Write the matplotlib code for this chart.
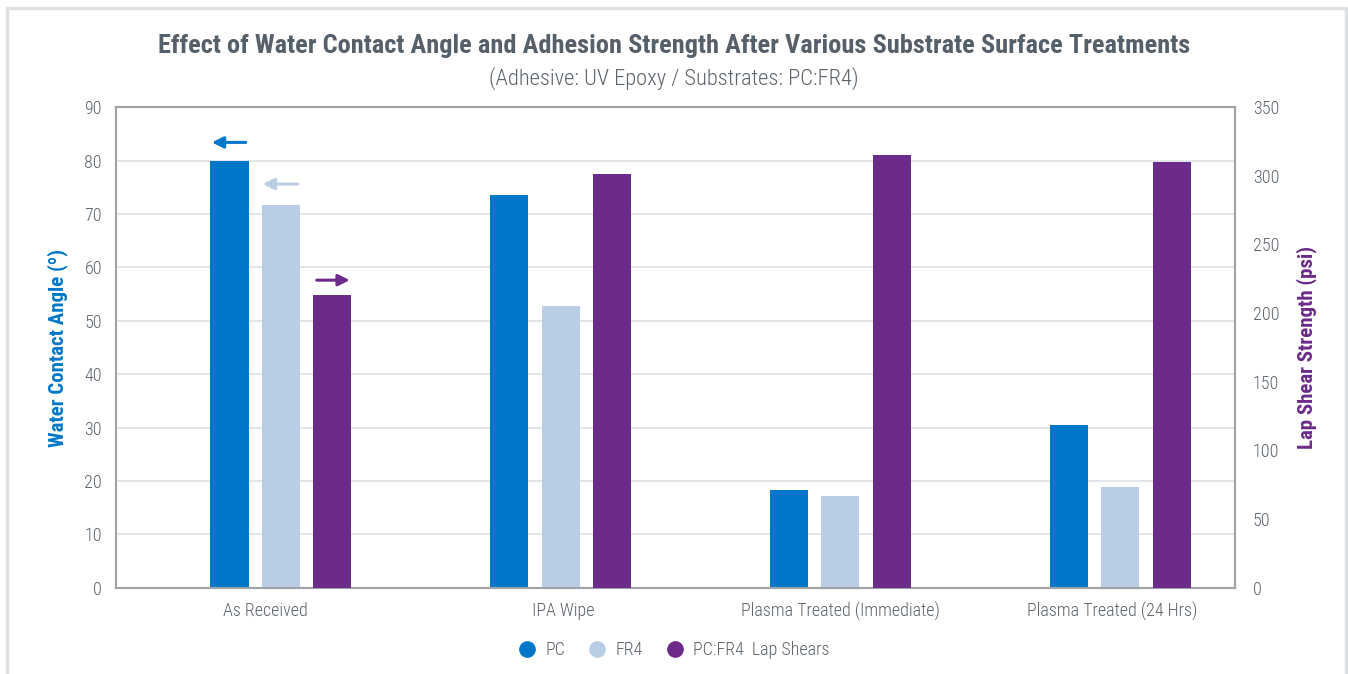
import matplotlib

matplotlib.use("Agg")
import matplotlib.pyplot as plt
import numpy as np
from matplotlib.lines import Line2D

plt.rcParams["font.family"] = ["Roboto Condensed", "Barlow Semi Condensed",
                               "DejaVu Sans"]

categories = ["As Received", "IPA Wipe", "Plasma Treated (Immediate)",
              "Plasma Treated (24 Hrs)"]
pc_angle = [80.0, 73.6, 18.3, 30.5]
fr4_angle = [71.7, 52.7, 17.2, 18.9]
lap_shear = [213, 301, 315, 310]

C_PC = "#0077c8"
C_FR4 = "#b9cee5"
C_LAP = "#6c2a8a"
C_TEXT = "#5b636b"
C_GRID = "#dde2e8"

fig = plt.figure(figsize=(13.48, 6.74), dpi=100)
ax = fig.add_axes([0.086, 0.128, 0.830, 0.713])
ax2 = ax.twinx()

x = np.arange(len(categories))
w = 0.136
off = 0.184
ax.bar(x - off, pc_angle, w, color=C_PC, zorder=3)
ax.bar(x, fr4_angle, w, color=C_FR4, zorder=3)
ax2.bar(x + off, lap_shear, w, color=C_LAP, zorder=3)

ax.set_xlim(-0.59, 3.41)
ax.set_ylim(0, 90)
ax2.set_ylim(0, 350)
ax.set_yticks(np.arange(0, 91, 10))
ax2.set_yticks(np.arange(0, 351, 50))
ax.yaxis.grid(True, color=C_GRID, lw=1.2, zorder=0)
ax.set_axisbelow(True)
ax.set_xticks(x + np.array([-0.057, 0.01, 0.0, -0.03]))
ax.set_xticklabels(categories)

for a in (ax, ax2):
    a.tick_params(length=0, labelsize=13, labelcolor=C_TEXT, pad=10)
    for lbl in a.get_xticklabels() + a.get_yticklabels():
        lbl.set_fontweight("light")
    for s in a.spines.values():
        s.set_color("#a0a4a8")
        s.set_linewidth(1.5)
ax.tick_params(axis="y", pad=10)
ax2.tick_params(axis="y", pad=13)

ax.set_ylabel("Water Contact Angle (º)", color=C_PC, fontsize=15,
              fontweight="bold", labelpad=12)
ax2.set_ylabel("Lap Shear Strength (psi)", color=C_LAP, fontsize=15,
               fontweight="bold", labelpad=12)

# direction arrows above the first group
arrow = dict(arrowstyle="-|>", lw=2.2, mutation_scale=17, shrinkA=0, shrinkB=0)
ax.annotate("", xy=(-0.247, pc_angle[0] + 3.4),
            xytext=(-0.126, pc_angle[0] + 3.4),
            arrowprops=dict(arrow, color=C_PC))
ax.annotate("", xy=(-0.065, fr4_angle[0] + 3.9),
            xytext=(0.06, fr4_angle[0] + 3.9),
            arrowprops=dict(arrow, color=C_FR4))
ax2.annotate("", xy=(0.246, lap_shear[0] + 11),
             xytext=(0.128, lap_shear[0] + 11),
             arrowprops=dict(arrow, color=C_LAP))

fig.text(0.5, 0.932,
         "Effect of Water Contact Angle and Adhesion Strength After Various "
         "Substrate Surface Treatments",
         ha="center", va="center", fontsize=19, fontweight="bold",
         color="#56606a")
fig.text(0.5, 0.883, "(Adhesive: UV Epoxy / Substrates: PC:FR4)",
         ha="center", va="center", fontsize=16.2, color=C_TEXT,
         fontweight="light")

handles = [
    Line2D([0], [0], marker="o", ls="none", ms=11, color=C_PC, label="PC"),
    Line2D([0], [0], marker="o", ls="none", ms=11, color=C_FR4, label="FR4"),
    Line2D([0], [0], marker="o", ls="none", ms=11, color=C_LAP,
           label="PC:FR4  Lap Shears"),
]
leg = fig.legend(handles=handles, loc="center", bbox_to_anchor=(0.5, 0.035),
                 ncol=3, frameon=False, fontsize=13, handlelength=1.0,
                 handletextpad=0.5, columnspacing=1.3)
for t in leg.get_texts():
    t.set_color(C_TEXT)
    t.set_fontweight("light")

# light frame around the chart (open at the bottom)
fig.add_artist(Line2D([0.005, 0.005, 0.9985, 0.9985],
                      [0.0, 0.988, 0.988, 0.0],
                      transform=fig.transFigure, color="#dde1e5", lw=2.5))

fig.savefig("out.png", dpi=100)
